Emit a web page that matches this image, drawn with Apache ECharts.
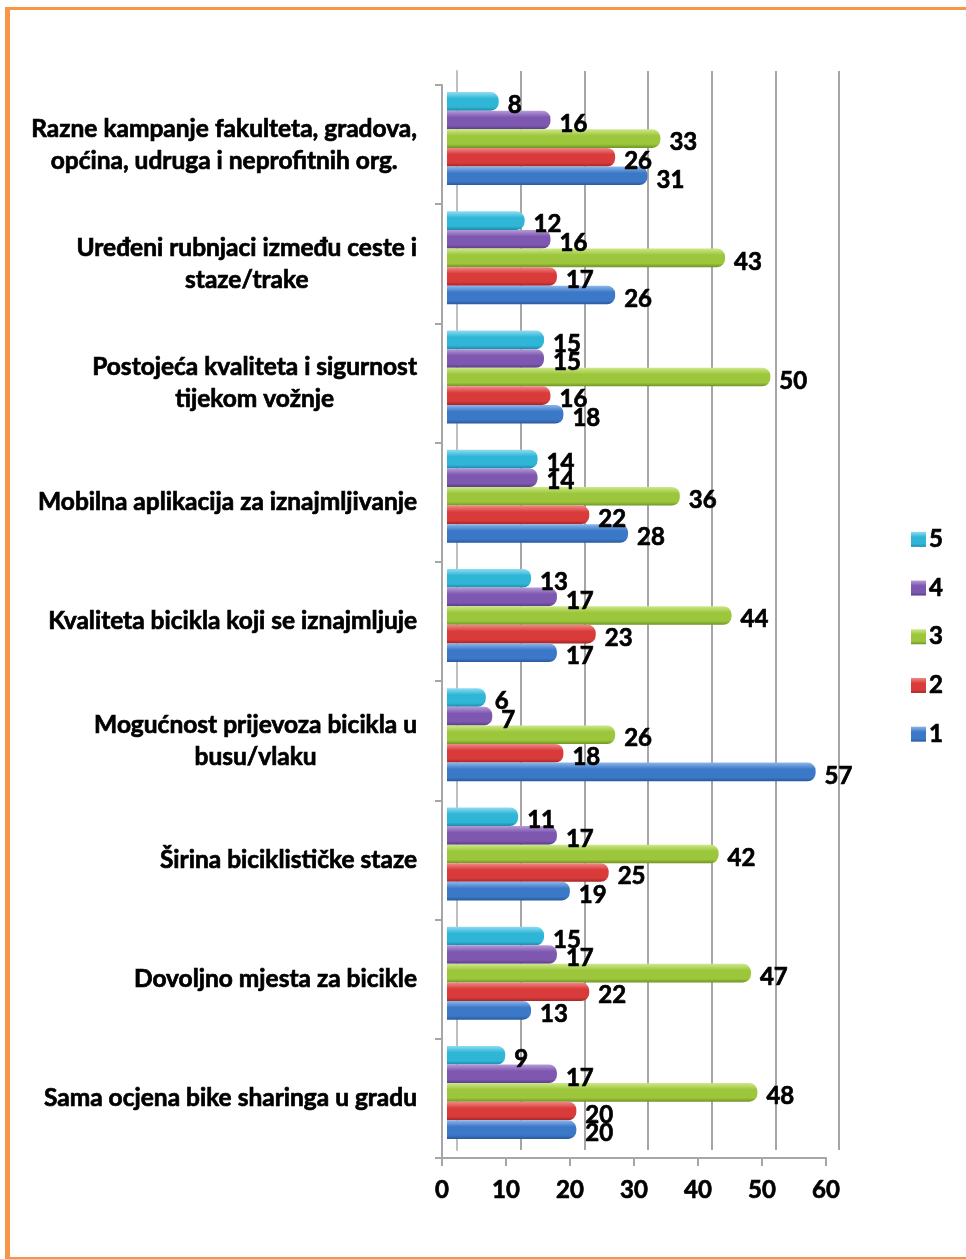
<!DOCTYPE html>
<html><head><meta charset="utf-8">
<script src="https://cdn.jsdelivr.net/npm/echarts@6/dist/echarts.min.js"></script>
<style>
html,body{margin:0;padding:0;background:#fff;}
#frame{position:absolute;left:5px;top:7px;width:957px;height:1247px;border-style:solid;border-color:#F79646;border-width:3px 1px 3px 5px;}
#c{position:absolute;left:0;top:0;width:966px;height:1259px;}
</style></head><body>
<div id="frame"></div>
<div id="c"></div>
<script>
const categories = [
  "Razne kampanje fakulteta, gradova,\nopćina, udruga i neprofitnih org.",
  "Uređeni rubnjaci između ceste i\nstaze/trake",
  "Postojeća kvaliteta i sigurnost\ntijekom vožnje",
  "Mobilna aplikacija za iznajmljivanje",
  "Kvaliteta bicikla koji se iznajmljuje",
  "Mogućnost prijevoza bicikla u\nbusu/vlaku",
  "Širina biciklističke staze",
  "Dovoljno mjesta za bicikle",
  "Sama ocjena bike sharinga u gradu"
];
const seriesNames = ["5", "4", "3", "2", "1"];
const s5 = [8, 12, 15, 14, 13, 6, 11, 15, 9];
const s4 = [16, 16, 15, 14, 17, 7, 17, 17, 17];
const s3 = [33, 43, 50, 36, 44, 26, 42, 47, 48];
const s2 = [26, 17, 16, 22, 23, 18, 25, 22, 20];
const s1 = [31, 26, 18, 28, 17, 57, 19, 13, 20];
const tickValues = [0, 10, 20, 30, 40, 50, 60];

const values = [s5, s4, s3, s2, s1];
const palettes = [
  ["#8FDDF2", "#2FB6D6", "#1C8AA8"],
  ["#B79BD8", "#7E58B0", "#5A3D86"],
  ["#CDE88A", "#9CC63B", "#6F9426"],
  ["#F08A88", "#D93B3B", "#A32626"],
  ["#8DB6EA", "#3C78C8", "#285A9C"]
];
const FONT = "Lato, 'Liberation Sans', sans-serif";
const TXT = {fontFamily: FONT, fontWeight:'bold', color:'#000', textBorderColor:'#000', textBorderWidth:0.7};

function grad(p){
  return new echarts.graphic.LinearGradient(0,0,0,1,[
    {offset:0,color:p[0]},{offset:0.35,color:p[1]},{offset:0.8,color:p[1]},{offset:1,color:p[2]}
  ]);
}

const series = values.map((v,i)=>({
  name: seriesNames[i],
  type: 'bar',
  xAxisIndex: 0, yAxisIndex: 0,
  data: v,
  barGap: '0%',
  barCategoryGap: '22%',
  itemStyle: {color: grad(palettes[i]), borderRadius:[0,8,8,0]},
  label: Object.assign({show:true, position:'right', distance:9, offset:[0,4], fontSize:24}, TXT)
}));

const chart = echarts.init(document.getElementById('c'), null, {renderer:'canvas'});
chart.setOption({
  animation:false,
  backgroundColor:'transparent',
  color: palettes.map(p=>p[1]),
  legend: {
    orient:'vertical', left: 906, top: 522, itemGap: 24, itemWidth: 15, itemHeight: 15,
    icon:'rect',
    textStyle:Object.assign({fontSize:24, padding:[0,0,0,-2]}, TXT),
    data: seriesNames
  },
  grid: [
    {left:447, width:388, top:79, bottom:107},   // bars
    {left:442, width:384, top:85, bottom:101},   // front axes
    {left:457, width:382, top:71, bottom:109}    // back gridlines
  ],
  xAxis: [
    {gridIndex:0, type:'value', min:0, max:60, interval:10, show:false},
    {gridIndex:1, type:'value', min:0, max:60, interval:10,
      axisLine:{show:true, lineStyle:{color:'#A6A6A6', width:2}},
      axisTick:{show:true, length:8, lineStyle:{color:'#A6A6A6', width:2}},
      splitLine:{show:false},
      axisLabel:Object.assign({margin:20, fontSize:24,
        formatter: (val)=> tickValues.indexOf(val) >= 0 ? String(val) : ''}, TXT)},
    {gridIndex:2, type:'value', min:0, max:60, interval:10,
      axisLine:{show:false}, axisTick:{show:false}, axisLabel:{show:false},
      splitLine:{show:true, lineStyle:{color:'#A6A6A6', width:2}}}
  ],
  yAxis: [
    {gridIndex:0, type:'category', data:categories, inverse:true, show:false},
    {gridIndex:1, type:'category', data:categories, inverse:true,
      axisLine:{show:true, lineStyle:{color:'#A6A6A6', width:2}},
      axisTick:{show:true, length:7, lineStyle:{color:'#A6A6A6', width:2}},
      axisLabel:{margin:25, align:'right',
        formatter: (val)=> val.split('\n').map(s=>'{c|'+s+'}').join('\n'),
        rich:{c:Object.assign({align:'center', fontSize:24.5, lineHeight:32}, TXT)}}},
    {gridIndex:2, type:'category', data:categories, inverse:true,
      axisLine:{show:true, lineStyle:{color:'#BFBFBF', width:2}},
      axisTick:{show:false}, axisLabel:{show:false}}
  ],
  series: series
});
</script>
</body></html>
